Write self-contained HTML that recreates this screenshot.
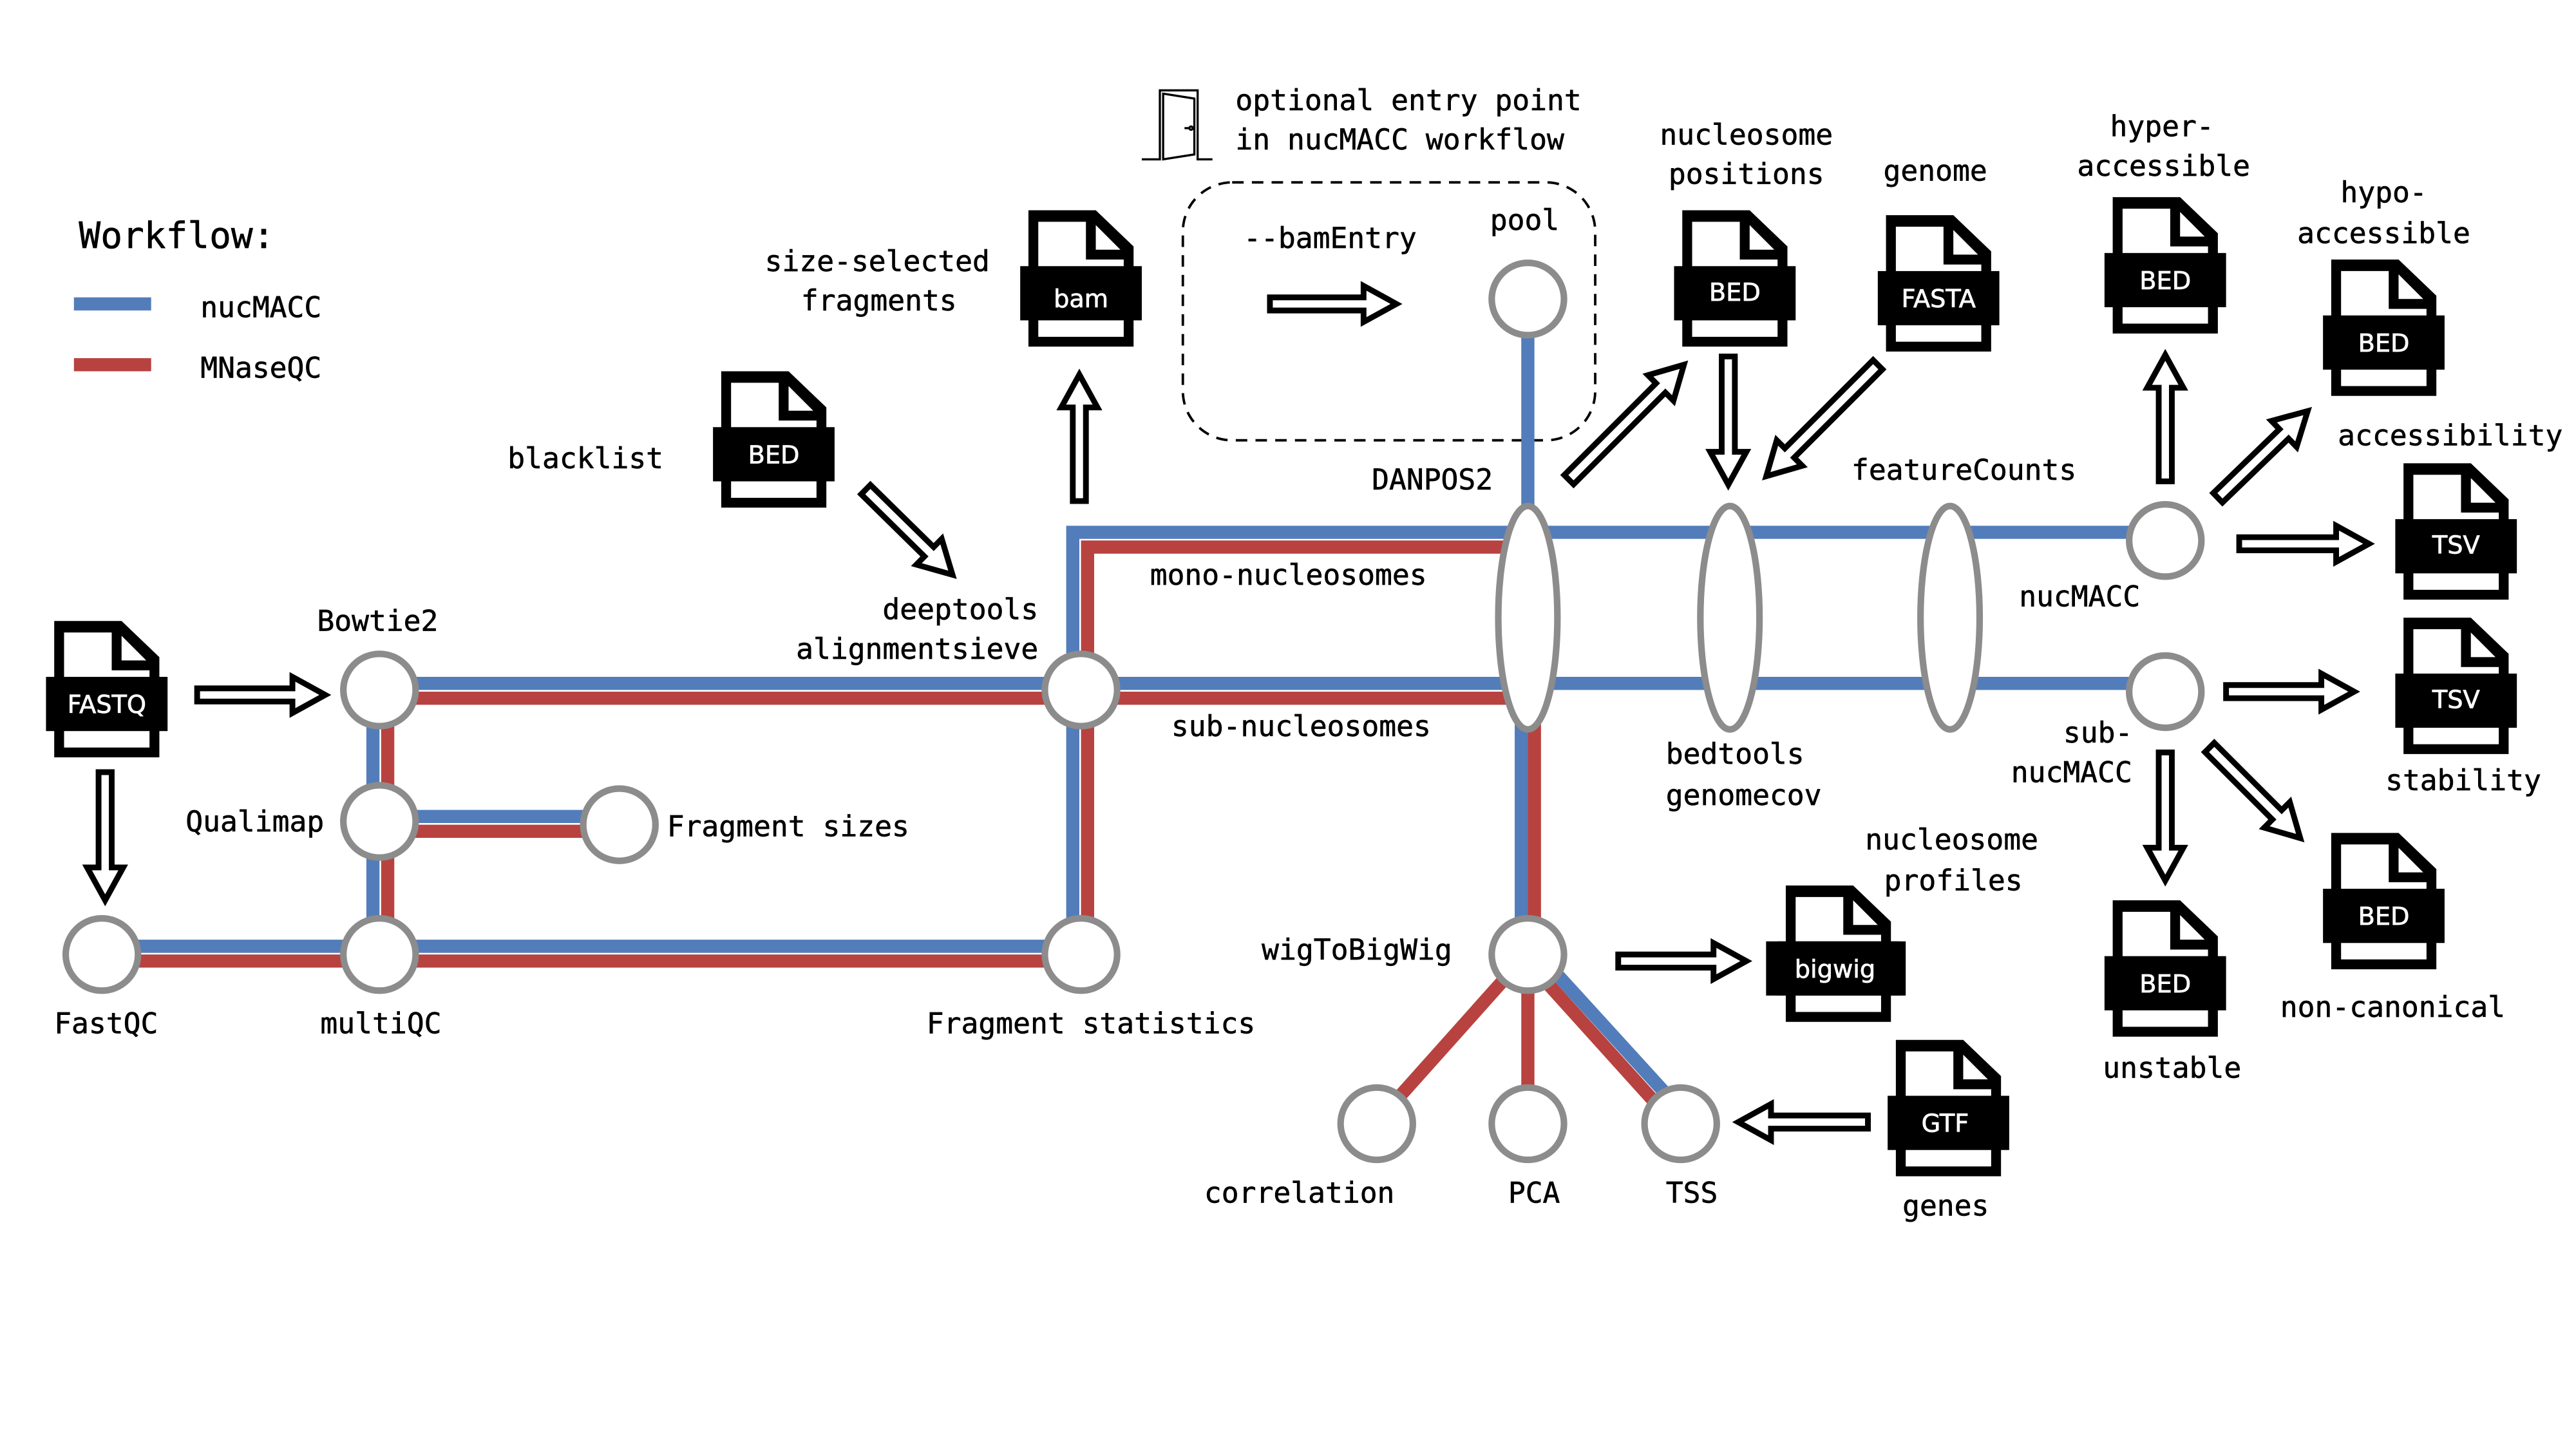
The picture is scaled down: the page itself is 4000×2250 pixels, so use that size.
<!DOCTYPE html>
<html><head><meta charset="utf-8"><style>
html,body{margin:0;padding:0;background:#fff;}
svg{display:block;}
text{font-family:"DejaVu Sans Mono","Liberation Mono",monospace;font-size:17.5px;fill:#000;stroke:#000;stroke-width:0.25px;}
.lb{font-family:"DejaVu Sans","Liberation Sans",sans-serif;font-size:15px;fill:#fff;stroke:#fff;stroke-width:0.3px;text-anchor:middle;}
.m{text-anchor:middle;}
.e{text-anchor:end;}
.b{stroke:#527dba;stroke-width:8;fill:none;}
.r{stroke:#b8423f;stroke-width:8;fill:none;}
.n{fill:#fff;stroke:#8c8c8c;stroke-width:4;}
.ar{fill:#fff;stroke:#000;stroke-width:3.5;}
</style></head><body>
<svg width="4000" height="2250" viewBox="0 0 1568 882" preserveAspectRatio="none" xmlns="http://www.w3.org/2000/svg">
<defs>
<g id="doc">
<path d="M0,0 H41 L64,22 V83 H0 Z" fill="#000"/>
<path d="M6,7 H35 V30 H58 V77 H6 Z" fill="#fff"/>
<path d="M41,9 L56,24 H41 Z" fill="#fff"/>
<rect x="-5" y="34" width="74" height="33" fill="#000"/>
</g>
</defs>

<!-- legend -->
<text x="48" y="151" style="font-size:22px">Workflow:</text>
<line x1="45" y1="185" x2="92" y2="185" class="b"/>
<line x1="45" y1="222" x2="92" y2="222" class="r"/>
<text x="122" y="193">nucMACC</text>
<text x="122" y="230">MNaseQC</text>

<!-- door -->
<g stroke="#000" stroke-width="1.3" fill="none">
<path d="M695,97 H706 V55 H729 V97 H738"/>
<path d="M708,57 L727,60 V94 L708,97 Z"/>
<path d="M721,78 H724"/><circle cx="725" cy="78" r="1"/>
</g>
<text x="752" y="67">optional entry point</text>
<text x="752" y="91">in nucMACC workflow</text>

<!-- dashed box -->
<rect x="720" y="111" width="251" height="157" rx="30" fill="none" stroke="#000" stroke-width="1.5" stroke-dasharray="7,5"/>
<text x="757" y="151">--bamEntry</text>
<text x="907" y="140">pool</text>

<!-- lines -->
<line x1="62" y1="576" x2="658" y2="576" class="b"/>
<line x1="62" y1="585" x2="658" y2="585" class="r"/>
<line x1="227" y1="420" x2="227" y2="580" class="b"/>
<line x1="236" y1="420" x2="236" y2="580" class="r"/>
<line x1="231" y1="497" x2="377" y2="497" class="b"/>
<line x1="231" y1="506" x2="377" y2="506" class="r"/>
<line x1="231" y1="416" x2="1318" y2="416" class="b"/>
<line x1="231" y1="425" x2="934" y2="425" class="r"/>
<path d="M653,580 V324 H1318" class="b"/>
<path d="M662,580 V333 H930" class="r"/>
<line x1="930" y1="182" x2="930" y2="325" class="b"/>
<line x1="926" y1="380" x2="926" y2="580" class="b"/>
<line x1="934" y1="425" x2="934" y2="580" class="r"/>
<line x1="934" y1="578" x2="1027" y2="680" class="b"/>
<line x1="927" y1="582" x2="1020" y2="685" class="r"/>
<line x1="930" y1="580" x2="838" y2="683" class="r"/>
<line x1="930" y1="580" x2="930" y2="683" class="r"/>

<!-- ellipses -->
<ellipse cx="930" cy="376" rx="18" ry="68" class="n"/>
<ellipse cx="1053" cy="376" rx="18" ry="68" class="n"/>
<ellipse cx="1187" cy="376" rx="18" ry="68" class="n"/>

<!-- nodes -->
<circle cx="231" cy="420" r="22" class="n"/>
<circle cx="231" cy="500" r="22" class="n"/>
<circle cx="231" cy="581" r="22" class="n"/>
<circle cx="62" cy="581" r="22" class="n"/>
<circle cx="377" cy="502" r="22" class="n"/>
<circle cx="658" cy="420" r="22" class="n"/>
<circle cx="658" cy="581" r="22" class="n"/>
<circle cx="930" cy="182" r="22" class="n"/>
<circle cx="1318" cy="329" r="22" class="n"/>
<circle cx="1318" cy="421" r="22" class="n"/>
<circle cx="930" cy="581" r="22" class="n"/>
<circle cx="838" cy="684" r="22" class="n"/>
<circle cx="930" cy="684" r="22" class="n"/>
<circle cx="1023" cy="684" r="22" class="n"/>

<!-- docs -->
<use href="#doc" x="33" y="378"/><text class="lb" x="65" y="434">FASTQ</text>
<use href="#doc" x="439" y="226"/><text class="lb" x="471" y="282">BED</text>
<use href="#doc" x="626" y="128"/><text class="lb" x="658" y="187">bam</text>
<use href="#doc" x="1024" y="128"/><text class="lb" x="1056" y="183">BED</text>
<use href="#doc" x="1148" y="131"/><text class="lb" x="1180" y="187">FASTA</text>
<use href="#doc" x="1286" y="120"/><text class="lb" x="1318" y="176">BED</text>
<use href="#doc" x="1419" y="158"/><text class="lb" x="1451" y="214">BED</text>
<use href="#doc" x="1463" y="282"/><text class="lb" x="1495" y="337">TSV</text>
<use href="#doc" x="1463" y="376"/><text class="lb" x="1495" y="431">TSV</text>
<use href="#doc" x="1419" y="507"/><text class="lb" x="1451" y="563">BED</text>
<use href="#doc" x="1286" y="548"/><text class="lb" x="1318" y="604">BED</text>
<use href="#doc" x="1087" y="539"/><rect x="1075" y="573" width="85" height="33" fill="#000"/><text class="lb" x="1117" y="595">bigwig</text>
<use href="#doc" x="1154" y="633"/><text class="lb" x="1184" y="689">GTF</text>

<!-- arrows -->
<g class="ar">
<g transform="translate(120,423)"><polygon points="0,-4 58,-4 58,-11 78,0 58,11 58,4 0,4"/></g>
<g transform="translate(64,470) rotate(90)"><polygon points="0,-4 58,-4 58,-11 78,0 58,11 58,4 0,4"/></g>
<g transform="translate(773,185)"><polygon points="0,-4 57,-4 57,-11 77,0 57,11 57,4 0,4"/></g>
<g transform="translate(527,298) rotate(44.5)"><polygon points="0,-4 54,-4 54,-11 74,0 54,11 54,4 0,4"/></g>
<g transform="translate(657,305) rotate(-90)"><polygon points="0,-4 57,-4 57,-11 77,0 57,11 57,4 0,4"/></g>
<g transform="translate(955,292) rotate(-45)"><polygon points="0,-4 79,-4 79,-11 99,0 79,11 79,4 0,4"/></g>
<g transform="translate(1052,217) rotate(90)"><polygon points="0,-4 58,-4 58,-11 78,0 58,11 58,4 0,4"/></g>
<g transform="translate(1143,222) rotate(135)"><polygon points="0,-4 76,-4 76,-11 96,0 76,11 76,4 0,4"/></g>
<g transform="translate(1318,293) rotate(-90)"><polygon points="0,-4 57,-4 57,-11 77,0 57,11 57,4 0,4"/></g>
<g transform="translate(1350,303) rotate(-44)"><polygon points="0,-4 56,-4 56,-11 76,0 56,11 56,4 0,4"/></g>
<g transform="translate(1363,331)"><polygon points="0,-4 59,-4 59,-11 79,0 59,11 59,4 0,4"/></g>
<g transform="translate(1355,421)"><polygon points="0,-4 58,-4 58,-11 78,0 58,11 58,4 0,4"/></g>
<g transform="translate(1318,458) rotate(90)"><polygon points="0,-4 58,-4 58,-11 78,0 58,11 58,4 0,4"/></g>
<g transform="translate(1345,455) rotate(45)"><polygon points="0,-4 58,-4 58,-11 78,0 58,11 58,4 0,4"/></g>
<g transform="translate(985,585)"><polygon points="0,-4 58,-4 58,-11 78,0 58,11 58,4 0,4"/></g>
<g transform="translate(1137,683) rotate(180)"><polygon points="0,-4 59,-4 59,-11 79,0 59,11 59,4 0,4"/></g>
</g>

<!-- labels -->
<text class="m" x="534" y="165">size-selected</text>
<text class="m" x="535" y="189">fragments</text>
<text x="309" y="285">blacklist</text>
<text class="e" x="632" y="377">deeptools</text>
<text class="e" x="632" y="401">alignmentsieve</text>
<text x="193" y="384">Bowtie2</text>
<text x="113" y="506">Qualimap</text>
<text x="406" y="509">Fragment sizes</text>
<text x="33" y="629">FastQC</text>
<text x="195" y="629">multiQC</text>
<text x="564" y="629">Fragment statistics</text>
<text x="700" y="356">mono-nucleosomes</text>
<text x="713" y="448">sub-nucleosomes</text>
<text x="835" y="298">DANPOS2</text>
<text class="m" x="1063" y="88">nucleosome</text>
<text class="m" x="1063" y="112">positions</text>
<text class="m" x="1178" y="110">genome</text>
<text class="m" x="1316" y="83">hyper-</text>
<text class="m" x="1317" y="107">accessible</text>
<text class="m" x="1451" y="123">hypo-</text>
<text class="m" x="1451" y="148">accessible</text>
<text x="1423" y="271">accessibility</text>
<text x="1127" y="292">featureCounts</text>
<text x="1229" y="369">nucMACC</text>
<text class="m" x="1277" y="452">sub-</text>
<text class="m" x="1261" y="476">nucMACC</text>
<text x="1452" y="481">stability</text>
<text x="1014" y="465">bedtools</text>
<text x="1014" y="490">genomecov</text>
<text class="m" x="1188" y="517">nucleosome</text>
<text class="m" x="1189" y="542">profiles</text>
<text x="768" y="584">wigToBigWig</text>
<text x="1388" y="619">non-canonical</text>
<text x="1280" y="656">unstable</text>
<text x="733" y="732">correlation</text>
<text x="918" y="732">PCA</text>
<text x="1014" y="732">TSS</text>
<text x="1158" y="740">genes</text>
</svg>
</body></html>
